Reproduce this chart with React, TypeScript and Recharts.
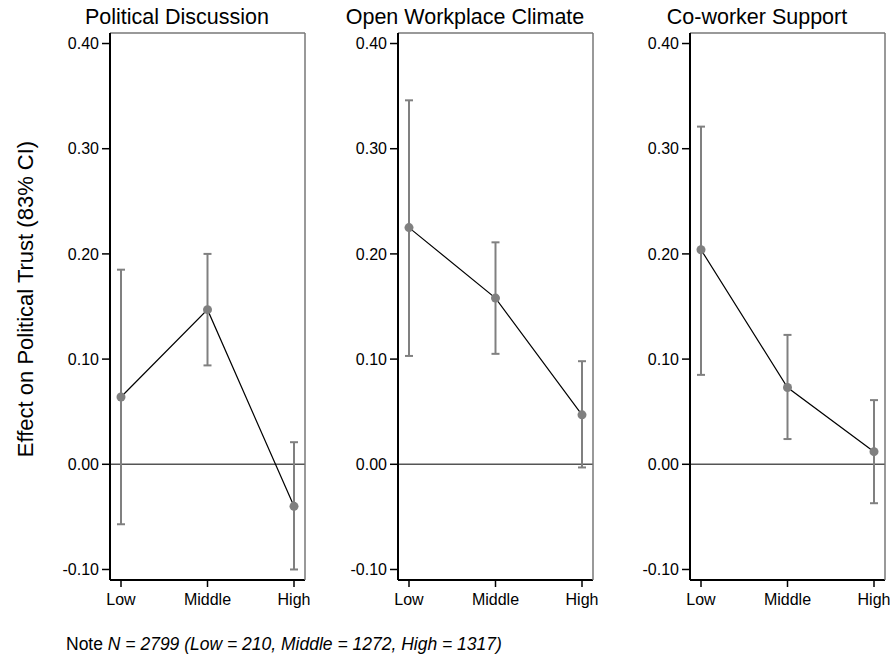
import { LineChart, Line, XAxis, YAxis, ErrorBar, ReferenceLine } from "recharts";

const levels = ["Low", "Middle", "High"];
const yTicks = [-0.1, 0, 0.1, 0.2, 0.3, 0.4];

const discussionEst = [0.064, 0.147, -0.04];
const discussionLo = [-0.057, 0.094, -0.1];
const discussionHi = [0.185, 0.2, 0.021];

const climateEst = [0.225, 0.158, 0.047];
const climateLo = [0.103, 0.105, -0.003];
const climateHi = [0.346, 0.211, 0.098];

const supportEst = [0.204, 0.073, 0.012];
const supportLo = [0.085, 0.024, -0.037];
const supportHi = [0.321, 0.123, 0.061];

const FONT = "'Liberation Sans', Arial, Helvetica, sans-serif";
const GREY = "#808080";

interface PanelProps {
  title: string;
  est: number[];
  lo: number[];
  hi: number[];
  axisX: number;
}

const Panel = ({ est, lo, hi, axisX }: PanelProps) => {
  const data = levels.map((level, i) => ({
    level,
    est: est[i],
    err: [est[i] - lo[i], hi[i] - est[i]],
  }));
  return (
    <div style={{ position: "absolute", left: axisX - 70, top: 0 }}>
      <LineChart width={70 + 195 + 1 + 20} height={620} data={data} margin={{ top: 32, right: 20, left: 0, bottom: 0 }}>
        <XAxis
          dataKey="level"
          scale="point"
          padding={{ left: 11, right: 11 }}
          interval={0}
          height={40}
          tickSize={7}
          tickMargin={7}
          axisLine={{ stroke: "#000", strokeWidth: 2 }}
          tickLine={{ stroke: "#000", strokeWidth: 1.5 }}
          tick={{ fontSize: 16, fill: "#000", fontFamily: FONT }}
        />
        <XAxis
          xAxisId="border"
          dataKey="level"
          orientation="top"
          height={1}
          tick={false}
          tickLine={false}
          axisLine={{ stroke: "#777", strokeWidth: 1.5 }}
        />
        <YAxis
          domain={[-0.11, 0.41]}
          allowDataOverflow
          ticks={yTicks}
          interval={0}
          width={70}
          tickSize={8}
          tickMargin={3}
          tickFormatter={(v: number) => v.toFixed(2)}
          axisLine={{ stroke: "#000", strokeWidth: 2 }}
          tickLine={{ stroke: "#000", strokeWidth: 1.5 }}
          tick={{ fontSize: 16, fill: "#000", fontFamily: FONT }}
        />
        <YAxis
          yAxisId="border"
          orientation="right"
          domain={[-0.11, 0.41]}
          width={1}
          tick={false}
          tickLine={false}
          axisLine={{ stroke: "#777", strokeWidth: 1.5 }}
        />
        <ReferenceLine y={0} stroke="#555" strokeWidth={1.5} />
        <Line
          dataKey="est"
          stroke="#000"
          strokeWidth={1.2}
          dot={{ r: 4.5, fill: GREY, stroke: GREY, strokeWidth: 0 }}
          activeDot={false}
          isAnimationActive={false}
        >
          <ErrorBar dataKey="err" direction="y" width={4} stroke={GREY} strokeWidth={2} />
        </Line>
      </LineChart>
    </div>
  );
};

const panels = [
  { title: "Political Discussion", est: discussionEst, lo: discussionLo, hi: discussionHi, axisX: 110 },
  { title: "Open Workplace Climate", est: climateEst, lo: climateLo, hi: climateHi, axisX: 398 },
  { title: "Co-worker Support", est: supportEst, lo: supportLo, hi: supportHi, axisX: 690 },
];

export default function App() {
  return (
    <div style={{ position: "absolute", left: 0, top: 0, width: 896, height: 656, background: "#fff", fontFamily: FONT, overflow: "hidden" }}>
      {panels.map((p) => (
        <Panel key={p.title} {...p} />
      ))}
      <svg width={896} height={656} style={{ position: "absolute", left: 0, top: 0, pointerEvents: "none" }}>
        {panels.map((p) => (
          <text key={p.title} x={p.axisX + 67} y={24} textAnchor="middle" fontSize={21.5} fill="#000" fontFamily={FONT}>
            {p.title}
          </text>
        ))}
        <text
          x={33}
          y={299}
          transform="rotate(-90 33 299)"
          textAnchor="middle"
          fontSize={22}
          fill="#000"
          fontFamily={FONT}
        >
          Effect on Political Trust (83% CI)
        </text>
        <text x={66} y={650} fontSize={17.5} fill="#000" fontFamily={FONT}>
          Note <tspan fontStyle="italic">N = 2799 (Low = 210, Middle = 1272, High = 1317)</tspan>
        </text>
      </svg>
    </div>
  );
}
